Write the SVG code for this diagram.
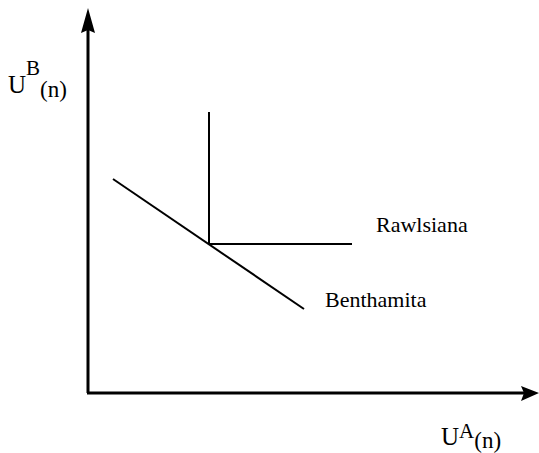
<svg xmlns="http://www.w3.org/2000/svg" width="539" height="453" viewBox="0 0 539 453">
<style>
text{font-family:'Liberation Serif','DejaVu Serif',serif;fill:#000;font-size:22px}
.axis{stroke:#000;stroke-width:3;fill:none}
.ln{stroke:#000;stroke-width:2;fill:none}
.big{font-size:25px}
.sup{font-size:21px}
.sub{font-size:23px}
</style>
<rect width="539" height="453" fill="#fff"/>
<g id="connectors">
<line class="axis" x1="88" y1="393" x2="88" y2="28"/>
<polygon points="88,8 95,33 88,30 81,33" fill="#000"/>
<line class="axis" x1="87" y1="393" x2="525" y2="393"/>
<polygon points="539,393 521,401 524,393 521,386" fill="#000"/>
<line class="ln" x1="209" y1="112" x2="209" y2="244"/>
<line class="ln" x1="209" y1="244" x2="352" y2="244"/>
<line class="ln" x1="113" y1="179" x2="304" y2="309"/>
</g>
<g id="label-uB"><text class="big" x="8" y="93">U<tspan class="sup" dy="-18">B</tspan><tspan class="sub" dy="22">(n)</tspan></text></g>
<g id="label-uA"><text class="big" x="441" y="445">U<tspan class="sup" dy="-7">A</tspan><tspan class="sub" dy="10">(n)</tspan></text></g>
<g id="label-rawlsiana"><text x="376" y="232">Rawlsiana</text></g>
<g id="label-benthamita"><text x="325" y="307">Benthamita</text></g>
</svg>
